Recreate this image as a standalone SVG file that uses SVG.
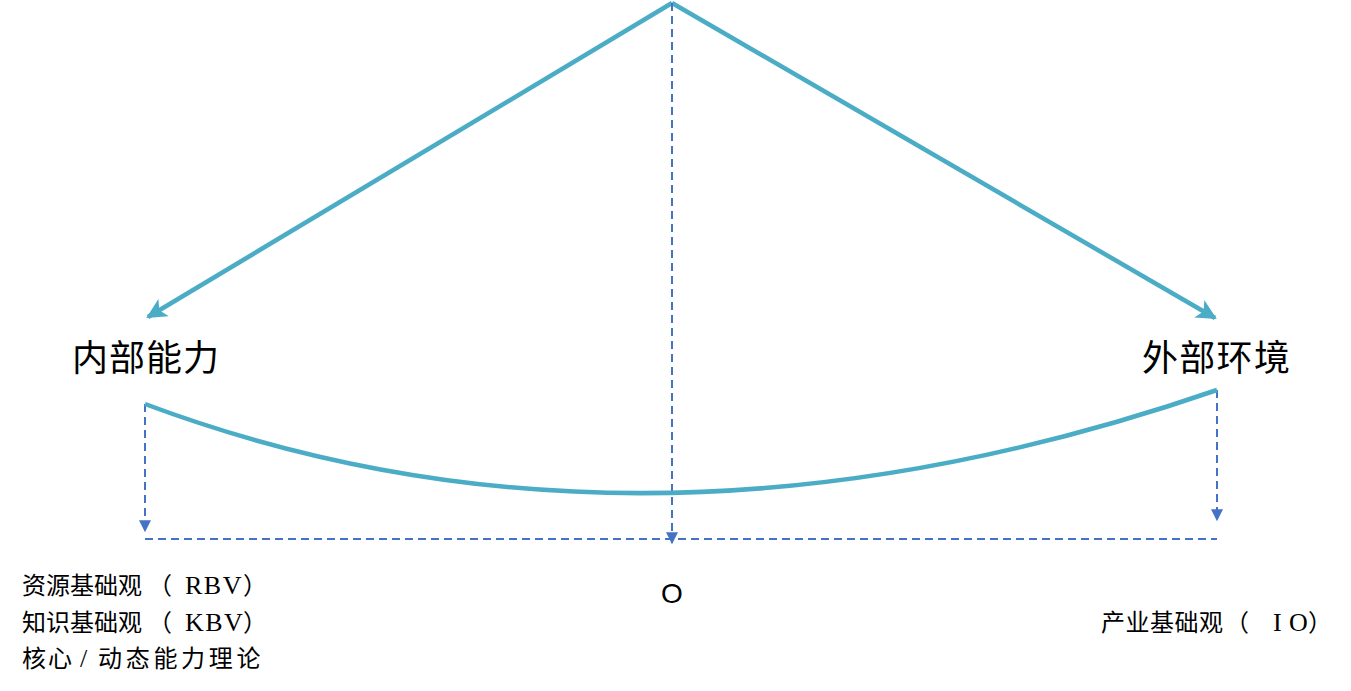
<svg xmlns="http://www.w3.org/2000/svg" width="1351" height="691" viewBox="0 0 1351 691">
<style>
.main{stroke:#4BACC6;stroke-width:4.5;fill:none}
.dash{stroke:#4472C4;stroke-width:2;fill:none;stroke-dasharray:8 5}
.lbl{font-family:"Liberation Serif","Noto Sans CJK SC",serif;fill:#000}
.lat{font-size:26px;letter-spacing:1.5px}
</style>
<defs>
<marker id="ac" viewBox="0 0 10 10" refX="9" refY="5" markerWidth="4.5" markerHeight="4.5" orient="auto" markerUnits="strokeWidth">
<path d="M0,0 L10,5 L0,10 L2.5,5 z" fill="#4BACC6"/>
</marker>
<marker id="ab" viewBox="0 0 10 10" refX="9" refY="5" markerWidth="6" markerHeight="6" orient="auto" markerUnits="strokeWidth">
<path d="M0,0 L10,5 L0,10 z" fill="#4472C4"/>
</marker>
</defs>
<g id="connectors">
<line class="main" x1="672" y1="3" x2="148" y2="317" marker-end="url(#ac)"/>
<line class="main" x1="672" y1="3" x2="1215" y2="318" marker-end="url(#ac)"/>
<line class="dash" x1="672" y1="3" x2="672" y2="543" marker-end="url(#ab)"/>
<line class="dash" x1="145" y1="404" x2="145" y2="531" marker-end="url(#ab)"/>
<line class="dash" x1="1217" y1="390" x2="1217" y2="520" marker-end="url(#ab)"/>
<line class="dash" x1="145" y1="539" x2="1217" y2="539"/>
<path class="main" d="M145,404 Q640,589 1217,390"/>
</g>
<g id="node-internal"><text class="lbl" x="72" y="371" font-size="36" letter-spacing="1">内部能力</text></g>
<g id="node-external"><text class="lbl" x="1142" y="371" font-size="36" letter-spacing="1.3">外部环境</text></g>
<g id="node-origin"><text x="672" y="603" font-size="28" text-anchor="middle" font-family="Liberation Sans, sans-serif">O</text></g>
<g id="node-left-theories">
<text class="lbl" y="594" font-size="24"><tspan x="22">资源基础观</tspan><tspan x="148">（</tspan><tspan x="185" class="lat">RBV</tspan><tspan x="243">）</tspan></text>
<text class="lbl" y="631" font-size="24"><tspan x="22">知识基础观</tspan><tspan x="148">（</tspan><tspan x="185" class="lat" letter-spacing="0.5">KBV</tspan><tspan x="243">）</tspan></text>
<text class="lbl" y="667" font-size="24"><tspan x="22" letter-spacing="2">核心</tspan><tspan x="80" font-size="26">/</tspan><tspan x="98" letter-spacing="3.7">动态能力理论</tspan></text>
</g>
<g id="node-right-theory"><text class="lbl" y="631" font-size="24"><tspan x="1101" letter-spacing="0.5">产业基础观</tspan><tspan x="1225">（</tspan><tspan x="1273" font-size="26">I</tspan><tspan x="1289" font-size="26">O</tspan><tspan x="1308">）</tspan></text></g>
</svg>
